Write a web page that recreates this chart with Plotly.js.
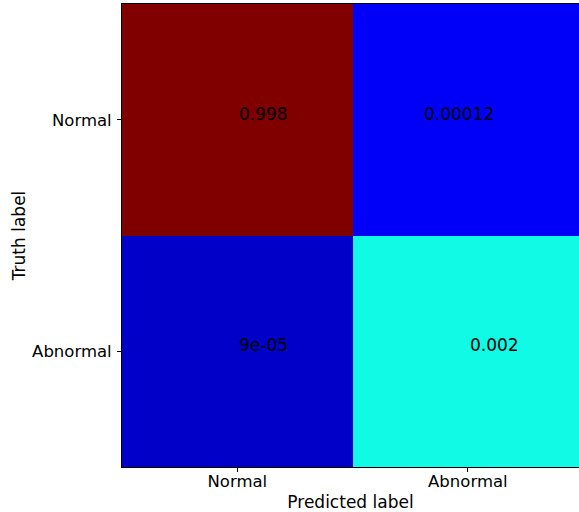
<!DOCTYPE html>
<html>
<head>
<meta charset="utf-8">
<script src="https://cdn.plot.ly/plotly-3.0.1.min.js"></script>
<style>html,body{margin:0;padding:0;background:#fff;}#chart{width:579px;height:512px;}</style>
</head>
<body>
<div id="chart"></div>
<script>
// Data
var predictedLabels = ['Normal', 'Abnormal'];
var truthLabels = ['Normal', 'Abnormal'];
var cellValues = [[0.998, 0.00012], [9e-05, 0.002]];
var cellText = [['0.998', '0.00012'], ['9e-05', '0.002']];
// colour level of each cell (position on the jet scale)
var colourLevels = [[1.0, 0.105], [0.063, 0.37]];

// matplotlib 'jet' colormap
var jet = [
  [0, 'rgb(0,0,128)'], [0.11, 'rgb(0,0,255)'], [0.125, 'rgb(0,0,255)'],
  [0.34, 'rgb(0,219,255)'], [0.35, 'rgb(0,230,247)'], [0.375, 'rgb(21,255,226)'],
  [0.64, 'rgb(239,255,8)'], [0.65, 'rgb(247,245,0)'], [0.66, 'rgb(255,236,0)'],
  [0.89, 'rgb(255,19,0)'], [0.91, 'rgb(232,0,0)'], [1, 'rgb(128,0,0)']
];

var xIdx = predictedLabels.map(function (_, i) { return i; });
var yIdx = truthLabels.map(function (_, i) { return i; });

var trace = {
  type: 'heatmap',
  x: xIdx,
  y: yIdx,
  z: colourLevels,
  customdata: cellValues,
  colorscale: jet,
  zmin: 0, zmax: 1,
  showscale: false,
  hoverinfo: 'skip'
};

// text placement offsets (pixels)
var xAnchors = [['left', 'left'], ['left', 'left']];
var xShifts = [[0, -46], [0, 0]];
var annotations = [];
for (var r = 0; r < yIdx.length; r++) {
  for (var c = 0; c < xIdx.length; c++) {
    annotations.push({
      x: xIdx[c], y: yIdx[r], xref: 'x', yref: 'y',
      text: cellText[r][c], showarrow: false,
      xanchor: xAnchors[r][c], xshift: xShifts[r][c], yshift: 6,
      font: {family: 'DejaVu Sans', size: 17, color: '#000'}
    });
  }
}

var layout = {
  width: 579, height: 512,
  margin: {l: 122, r: 0, t: 4, b: 45, pad: 0},
  paper_bgcolor: '#fff', plot_bgcolor: '#fff',
  font: {family: 'DejaVu Sans', size: 17, color: '#000'},
  xaxis: {
    range: [-0.5, 1.482],
    tickvals: xIdx, ticktext: predictedLabels,
    ticks: 'outside', ticklen: 4, tickcolor: '#000', tickwidth: 1,
    showline: true, linecolor: '#000', linewidth: 1, mirror: true,
    showgrid: false, zeroline: false,
    ticklabelstandoff: -5,
    title: {text: 'Predicted label', font: {size: 17}, standoff: 6},
    tickfont: {size: 16.5}
  },
  yaxis: {
    range: [1.5, -0.5],
    tickvals: yIdx, ticktext: truthLabels,
    ticks: 'outside', ticklen: 4, tickcolor: '#000', tickwidth: 1,
    showline: true, linecolor: '#000', linewidth: 1, mirror: false,
    showgrid: false, zeroline: false,
    ticklabelstandoff: 2,
    title: {text: 'Truth label', font: {size: 17}, standoff: 2},
    tickfont: {size: 16.5}
  },
  annotations: annotations
};

Plotly.newPlot('chart', [trace], layout, {staticPlot: true, displayModeBar: false});
</script>
</body>
</html>
